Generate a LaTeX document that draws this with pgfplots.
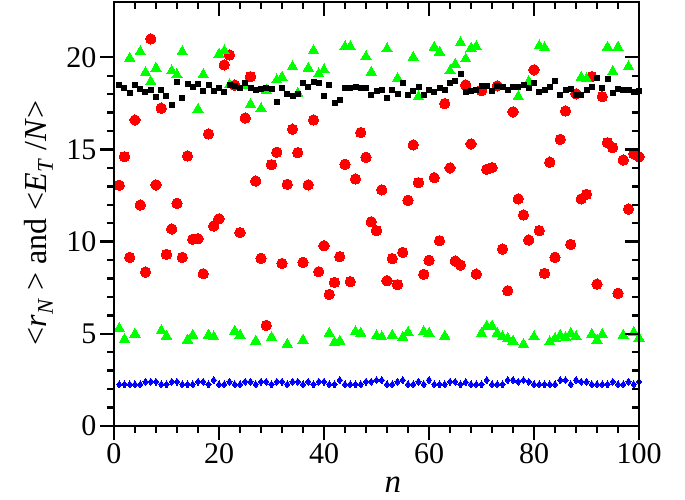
\documentclass[border=0pt]{standalone}
\usepackage{fontspec}
\setmainfont{Liberation Serif}
\usepackage{pgfplots}
\pgfplotsset{compat=1.18}
\definecolor{pred}{RGB}{255,0,0}
\definecolor{pgreen}{RGB}{0,255,0}
\definecolor{pblue}{RGB}{0,0,255}

\pgfplotsset{
  frame/.style={
    scale only axis, width=525pt, height=424pt,
    xmin=0, xmax=100, ymin=0, ymax=23,
    xtick={0,20,...,100}, ytick={0,5,...,20},
    minor x tick num=4, minor y tick num=4,
    axis line style={line width=2.6pt},
    major tick length=14pt, minor tick length=7pt,
    tick style={black, line width=2.4pt},
    ticklabel style={font=\fontsize{30}{36}\selectfont},
    /pgf/number format/assume math mode=true,
  },
}

\begin{document}
\begin{tikzpicture}
\begin{scope}[overlay]
\begin{axis}[frame,
  tick align=outside, xtick pos=left, ytick pos=left,
  xlabel={\textit{n}},
  xlabel style={font=\fontsize{33}{36}\selectfont, at={(axis description cs:0.531,-0.156)}, anchor=base},
  ylabel={<\textit{r}\textsubscript{\textit{N}} > and <\textit{E}\textsubscript{\textit{T}} /\textit{N}>},
  ylabel style={font=\fontsize{32}{36}\selectfont, at={(axis description cs:-0.128,0.479)}, anchor=base},
]
% red circles
\addplot[only marks, mark=*, mark size=5.2pt, mark options={draw=pred, fill=pred, line width=0pt}] coordinates {
(1,13.06)(2,14.61)(3,9.15)(4,16.60)(5,11.99)(6,8.35)(7,21.0)(8,13.08)(9,17.24)(10,9.31)
(11,10.69)(12,12.08)(13,9.15)(14,14.65)(15,10.13)(16,10.16)(17,8.26)(18,15.84)(19,10.85)(20,11.24)
(21,19.59)(22,20.13)(23,18.49)(24,10.49)(25,16.71)(26,18.95)(27,13.29)(28,9.10)(29,5.46)(30,14.18)
(31,14.85)(32,8.82)(33,13.11)(34,16.10)(35,14.83)(36,8.88)(37,13.08)(38,16.60)(39,8.37)(40,9.78)
(41,7.14)(42,7.79)(43,9.19)(44,14.20)(45,7.83)(46,13.40)(47,15.92)(48,14.58)(49,11.08)(50,10.60)
(51,12.81)(52,7.88)(53,9.08)(54,7.67)(55,9.42)(56,12.24)(57,15.25)(58,13.20)(59,8.23)(60,8.99)
(61,13.47)(62,10.05)(63,17.49)(64,14.00)(65,8.95)(66,8.73)(67,18.50)(68,15.30)(69,8.24)(70,18.20)
(71,13.93)(72,14.02)(73,18.45)(74,9.60)(75,7.34)(76,17.04)(77,12.32)(78,11.45)(79,10.09)(80,19.32)
(81,10.60)(82,8.28)(83,14.31)(84,9.15)(85,15.55)(86,17.09)(87,9.85)(88,18.02)(89,12.32)(90,12.57)
(91,18.95)(92,7.70)(93,17.87)(94,15.37)(95,15.10)(96,7.20)(97,14.43)(98,11.77)(99,14.76)(100,14.60)};
% green triangles
\addplot[only marks, mark=triangle*, mark size=6pt, mark options={draw=pgreen, fill=pgreen, line width=0pt}] coordinates {
(1,5.30)(2,4.70)(3,19.95)(4,4.99)(5,20.31)(6,19.17)(7,18.68)(8,19.41)(9,5.17)(10,4.88)
(11,19.26)(12,19.05)(13,20.31)(14,4.66)(15,4.93)(16,17.18)(17,19.06)(18,4.93)(19,4.84)(20,20.17)
(21,20.35)(22,18.50)(23,5.15)(24,4.93)(25,18.45)(26,17.45)(27,4.61)(28,17.22)(29,18.20)(30,4.81)
(31,18.77)(32,18.92)(33,4.43)(34,19.50)(35,18.05)(36,4.66)(37,19.41)(38,20.37)(39,19.10)(40,19.32)
(41,5.03)(42,4.54)(43,4.61)(44,20.58)(45,20.58)(46,5.12)(47,5.03)(48,20.04)(49,19.19)(50,4.90)
(51,4.84)(52,20.46)(53,4.93)(54,18.85)(55,4.81)(56,5.08)(57,20.00)(58,17.87)(59,5.12)(60,5.03)
(61,20.55)(62,20.28)(63,4.88)(64,19.26)(65,19.62)(66,20.80)(67,19.91)(68,20.49)(69,20.58)(70,5.03)
(71,5.42)(72,5.42)(73,5.03)(74,4.84)(75,4.75)(76,4.61)(77,17.87)(78,4.43)(79,18.68)(80,4.84)
(81,20.62)(82,20.53)(83,4.57)(84,4.75)(85,4.93)(86,4.81)(87,5.03)(88,4.84)(89,18.92)(90,18.83)
(91,4.97)(92,4.66)(93,4.97)(94,20.55)(95,19.23)(96,20.55)(97,4.93)(98,19.50)(99,5.08)(100,4.77)};
% black squares
\addplot[only marks, mark=square*, mark size=2.5pt, mark options={draw=black, fill=black, line width=0pt}] coordinates {
(1,18.49)(2,18.36)(3,18.07)(4,18.49)(5,18.27)(6,18.12)(7,18.20)(8,17.87)(9,18.21)(10,17.92)
(11,17.40)(12,18.65)(13,17.81)(14,18.56)(15,18.41)(16,18.56)(17,18.18)(18,18.50)(19,18.18)(20,18.32)
(21,18.12)(22,18.50)(23,18.46)(24,18.32)(25,18.63)(26,18.34)(27,18.20)(28,18.27)(29,18.34)(30,18.30)
(31,17.58)(32,18.32)(33,18.01)(34,17.92)(35,17.99)(36,18.63)(37,18.41)(38,18.68)(39,18.59)(40,17.91)
(41,18.49)(42,17.54)(43,17.69)(44,18.32)(45,18.32)(46,18.38)(47,18.34)(48,18.32)(49,17.98)(50,18.18)
(51,18.23)(52,17.78)(53,18.20)(54,18.03)(55,18.59)(56,17.98)(57,18.18)(58,18.41)(59,17.98)(60,18.21)
(61,18.10)(62,18.32)(63,18.23)(64,18.63)(65,18.70)(66,19.12)(67,18.10)(68,18.16)(69,18.23)(70,18.45)
(71,18.45)(72,18.18)(73,18.45)(74,18.38)(75,18.23)(76,18.38)(77,18.41)(78,18.49)(79,18.32)(80,18.63)
(81,18.14)(82,18.23)(83,18.38)(84,18.72)(85,17.94)(86,18.23)(87,18.30)(88,17.96)(89,17.98)(90,18.20)
(91,18.38)(92,18.87)(93,18.32)(94,18.81)(95,18.09)(96,18.30)(97,18.20)(98,18.20)(99,18.14)(100,18.15)};
% blue diamonds
\addplot[only marks, mark=diamond*, mark size=3.5pt, mark options={draw=pblue, fill=pblue, line width=0pt}] coordinates {
(1,2.26)(2,2.26)(3,2.26)(4,2.26)(5,2.26)(6,2.40)(7,2.40)(8,2.40)(9,2.26)(10,2.26)
(11,2.40)(12,2.40)(13,2.26)(14,2.26)(15,2.26)(16,2.40)(17,2.40)(18,2.26)(19,2.49)(20,2.26)
(21,2.26)(22,2.40)(23,2.26)(24,2.26)(25,2.40)(26,2.40)(27,2.26)(28,2.40)(29,2.40)(30,2.26)
(31,2.40)(32,2.40)(33,2.26)(34,2.40)(35,2.40)(36,2.26)(37,2.40)(38,2.26)(39,2.40)(40,2.40)
(41,2.26)(42,2.26)(43,2.49)(44,2.26)(45,2.26)(46,2.26)(47,2.26)(48,2.40)(49,2.40)(50,2.49)
(51,2.49)(52,2.26)(53,2.26)(54,2.40)(55,2.49)(56,2.26)(57,2.26)(58,2.40)(59,2.26)(60,2.49)
(61,2.26)(62,2.26)(63,2.26)(64,2.40)(65,2.40)(66,2.26)(67,2.38)(68,2.26)(69,2.26)(70,2.26)
(71,2.49)(72,2.26)(73,2.26)(74,2.26)(75,2.49)(76,2.49)(77,2.40)(78,2.49)(79,2.40)(80,2.26)
(81,2.26)(82,2.26)(83,2.26)(84,2.26)(85,2.49)(86,2.49)(87,2.26)(88,2.49)(89,2.40)(90,2.40)
(91,2.26)(92,2.26)(93,2.26)(94,2.26)(95,2.40)(96,2.26)(97,2.26)(98,2.40)(99,2.26)(100,2.40)};
\end{axis}
% mirrored ticks on top and right, pointing inward
\begin{axis}[frame, tick align=inside, xtick pos=right, ytick pos=right,
  xticklabels={}, yticklabels={}]
\end{axis}
\end{scope}
\path ([xshift=-114pt,yshift=-74pt]current axis.south west) rectangle ([xshift=46pt,yshift=2pt]current axis.north east);
\end{tikzpicture}
\end{document}
